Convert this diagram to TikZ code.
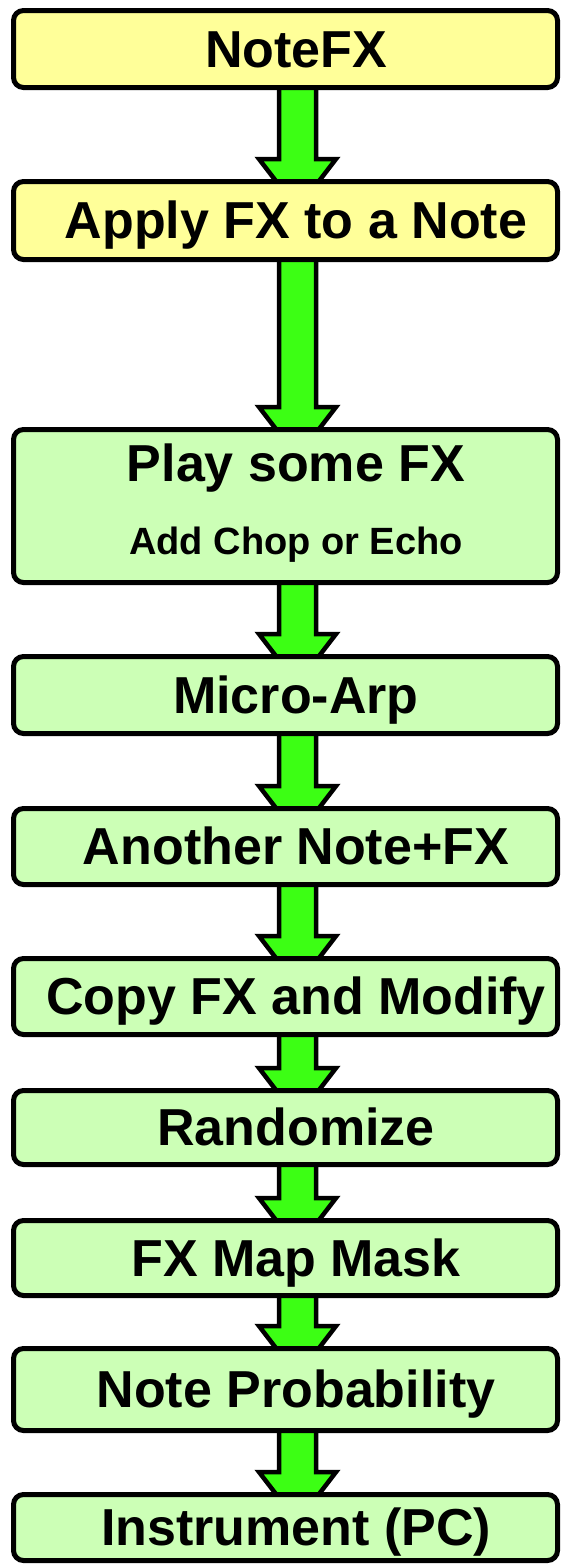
\documentclass[tikz,border=0pt]{standalone}
\usepackage{fontspec}
\setmainfont{Liberation Sans}
\usetikzlibrary{calc,backgrounds}
\definecolor{noteyellow}{RGB}{255,255,153}
\definecolor{stepgreen}{RGB}{204,255,182}
\definecolor{arrowgreen}{RGB}{60,255,20}
\tikzset{
  box/.style={rectangle, draw=black, line width=5pt, rounded corners=10pt,
    minimum width=544pt, inner sep=0pt},
  ybox/.style={box, fill=noteyellow},
  gbox/.style={box, fill=stepgreen},
  title/.style={anchor=base, inner sep=0pt, font=\bfseries\fontsize{52}{60}\selectfont},
  subtitle/.style={anchor=base, inner sep=0pt, font=\bfseries\fontsize{38}{44}\selectfont},
  fatarrow/.style={draw=black, line width=4.5pt, fill=arrowgreen, line join=miter,
    to path={let \p1=(\tikztostart), \p2=(\tikztotarget) in
      (\x1-18.5pt,\y1) -- (\x1-18.5pt,\y2+20pt) -- (\x1-38.5pt,\y2+20pt) --
      (\x1,\y2-30pt) -- (\x1+38.5pt,\y2+20pt) -- (\x1+18.5pt,\y2+20pt) --
      (\x1+18.5pt,\y1) -- cycle}},
}
\begin{document}
\begin{tikzpicture}[x=1pt,y=-1pt]
  \useasboundingbox (0,0) rectangle (561,1564);

  % boxes of the chain, top to bottom
  \node[ybox, minimum height=77pt]  (b1)  at (285.5,49)     {};
  \node[ybox, minimum height=78pt]  (b2)  at (285.5,220.5)  {};
  \node[gbox, minimum height=153pt] (b3)  at (285.5,506)    {};
  \node[gbox, minimum height=77pt]  (b4)  at (285.5,695)    {};
  \node[gbox, minimum height=76pt]  (b5)  at (285.5,846.5)  {};
  \node[gbox, minimum height=76pt]  (b6)  at (285.5,996.5)  {};
  \node[gbox, minimum height=74pt]  (b7)  at (285.5,1127.5) {};
  \node[gbox, minimum height=75pt]  (b8)  at (285.5,1258)   {};
  \node[gbox, minimum height=82pt]  (b9)  at (285.5,1389.5) {};
  \node[gbox, minimum height=66pt]  (b10) at (285.5,1527.5) {};

  % labels
  \node[title] (t1)  at ($(b1.center)+(10.5,18)$)  {NoteFX};
  \node[title] (t2)  at ($(b2.center)+(10.5,18)$)  {Apply FX to a Note};
  \node[title] (t3)  at ($(b3.north)+(10.5,54)$)   {Play some FX};
  \node[subtitle] (t3b) at ($(b3.north)+(10.5,127)$) {Add Chop or Echo};
  \node[title] (t4)  at ($(b4.center)+(10.5,18)$)  {Micro-Arp};
  \node[title] (t5)  at ($(b5.center)+(10.5,18)$)  {Another Note+FX};
  \node[title] (t6)  at ($(b6.center)+(10.5,18)$)  {Copy FX and Modify};
  \node[title] (t7)  at ($(b7.center)+(10.5,18)$)  {Randomize};
  \node[title] (t8)  at ($(b8.center)+(10.5,18)$)  {FX Map Mask};
  \node[title] (t9)  at ($(b9.center)+(10.5,18)$)  {Note Probability};
  \node[title] (t10) at ($(b10.center)+(10.5,18)$) {Instrument (PC)};

  % block arrows, tucked behind the boxes
  \begin{pgfonlayer}{background}
    \fill[white] (0,0) rectangle (561,1564);
    \foreach \a/\b in {b1/b2,b2/b3,b3/b4,b4/b5,b5/b6,b6/b7,b7/b8,b8/b9,b9/b10}
      \draw[fatarrow] ($(\a.center)+(12,0)$) to ($(\b.north)+(12,0)$);
  \end{pgfonlayer}
\end{tikzpicture}
\end{document}
